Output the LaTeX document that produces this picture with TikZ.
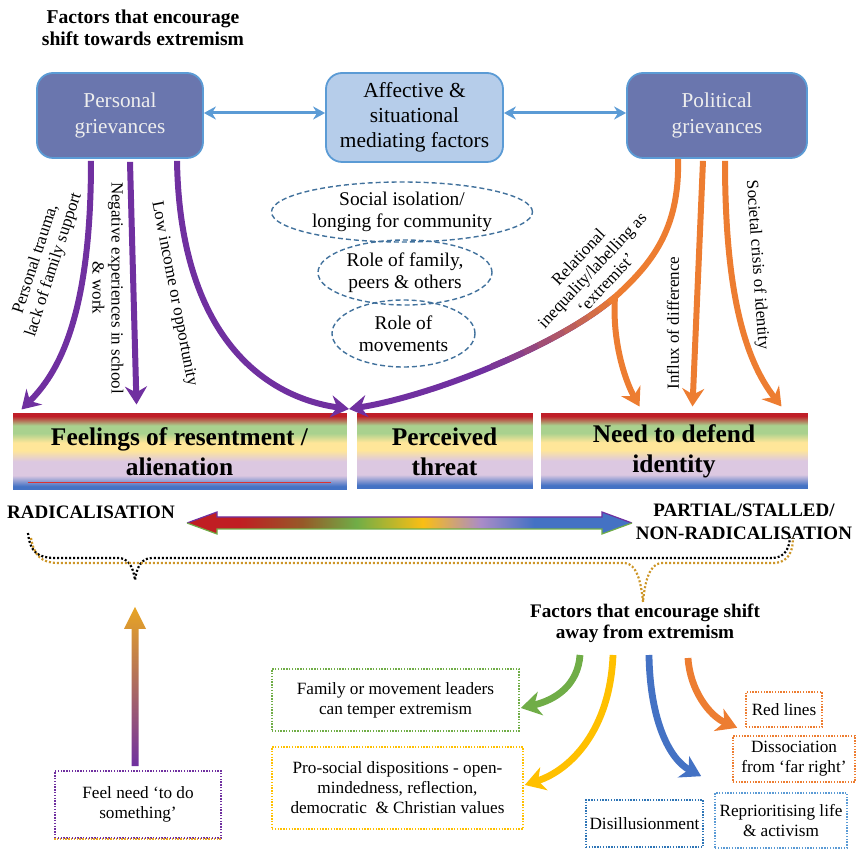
\documentclass[tikz,border=0pt]{standalone}
\usepackage{fontspec}
\setmainfont{Liberation Serif}
\usepackage{tikz}
\usetikzlibrary{arrows.meta, calc, positioning, shapes.geometric}

\definecolor{griefFill}{RGB}{106,118,174}
\definecolor{griefLine}{RGB}{91,155,213}
\definecolor{griefText}{RGB}{238,238,238}
\definecolor{mediateFill}{RGB}{182,205,234}
\definecolor{bubbleLine}{RGB}{65,113,156}
\definecolor{purpleA}{RGB}{112,48,160}
\definecolor{orangeA}{RGB}{237,125,49}
\definecolor{greenA}{RGB}{112,173,71}
\definecolor{goldA}{RGB}{255,192,0}
\definecolor{goldUp}{RGB}{232,165,35}
\definecolor{blueA}{RGB}{68,114,196}
\definecolor{blueDark}{RGB}{46,117,182}
\definecolor{blueLight}{RGB}{91,155,213}
\definecolor{braceGold}{RGB}{205,150,40}
\definecolor{underRed}{RGB}{220,50,50}
\definecolor{rbRed}{RGB}{192,30,40}
\definecolor{rbGreen}{RGB}{169,209,142}
\definecolor{rbYel}{RGB}{255,230,153}
\definecolor{rbLav}{RGB}{220,200,225}
\definecolor{rbBlue}{RGB}{68,114,196}
\definecolor{spRed}{RGB}{192,30,35}
\definecolor{spBrown}{RGB}{150,90,40}
\definecolor{spGreen}{RGB}{112,173,71}
\definecolor{spYel}{RGB}{250,190,20}
\definecolor{spLav}{RGB}{170,140,200}
\definecolor{spBlue}{RGB}{68,114,196}

\pgfdeclareverticalshading{rainbowbox}{100bp}{color(0bp)=(rbBlue); color(25bp)=(rbBlue); color(28bp)=(rbBlue); color(35bp)=(rbLav); color(44bp)=(rbLav); color(51bp)=(rbYel); color(56bp)=(rbYel); color(62bp)=(rbGreen); color(67bp)=(rbGreen); color(73bp)=(rbRed); color(100bp)=(rbRed)}
\pgfdeclarehorizontalshading{spectrum}{100bp}{color(0bp)=(spRed); color(25bp)=(spRed); color(31bp)=(spRed); color(38bp)=(spBrown); color(44bp)=(spGreen); color(51.5bp)=(spYel); color(58bp)=(spLav); color(64bp)=(spBlue); color(100bp)=(spBlue)}

\begin{document}
\begin{tikzpicture}[
  x=0.5pt, y=-0.5pt,
  every node/.style={font=\fontsize{8.6}{10}\selectfont, align=center, inner sep=0pt},
  header/.style={font=\bfseries\fontsize{9.8}{11}\selectfont},
  grief/.style={draw=griefLine, fill=griefFill, line width=0.9pt, rounded corners=8pt, text=griefText, minimum height=42.5pt, font=\fontsize{10.6}{13}\selectfont},
  mediate/.style={draw=griefLine, fill=mediateFill, line width=0.9pt, rounded corners=8pt, font=\fontsize{10.7}{12.5}\selectfont},
  bubble/.style={ellipse, draw=bubbleLine, dash pattern=on 2.5pt off 1.5pt, line width=0.7pt, font=\fontsize{9.7}{10.8}\selectfont},
  rainbow/.style={shade, shading=rainbowbox, draw=white, line width=0.5pt, font=\bfseries\fontsize{12.7}{15}\selectfont},
  dotbox/.style={draw, dash pattern=on 0.7pt off 0.7pt, line width=0.8pt},
  arlabel/.style={font=\fontsize{8.5}{9.5}\selectfont},
  link/.style={griefLine, line width=1.5pt, {Stealth[length=6pt, width=6.5pt]}-{Stealth[length=6pt, width=6.5pt]}},
  pushline/.style={line width=3pt, -{Stealth[length=9pt, width=11pt, inset=3pt]}},
  pullline/.style={line width=3.4pt, -{Stealth[length=10pt, width=12pt, inset=3pt]}},
  bracedots/.style={line width=1.1pt, dash pattern=on 1pt off 1pt}
]
\useasboundingbox (0,0) rectangle (859,850);

% Top boxes
\node[header] (towards) at (143,28) {Factors that encourage\\shift towards extremism};
\node[grief, minimum width=83pt] (personal) at (120,115.5) {Personal\\grievances};
\node[mediate, minimum width=88.5pt, minimum height=44.5pt] (affective) at (414.5,117.5) {Affective \&\\situational\\mediating factors};
\node[grief, minimum width=90pt] (political) at (717,115.5) {Political\\grievances};

% Mediating bubbles
\node[bubble, minimum width=130.5pt, minimum height=30pt] (isolation) at (402,212) {Social isolation/\\longing for community};
\node[bubble, minimum width=87pt, minimum height=32.5pt] (family) at (405,272.5) {Role of family,\\peers \& others};
\node[bubble, minimum width=71.5pt, minimum height=33.5pt] (movements) at (403.5,333.5) {Role of\\movements};

% Outcome boxes
\node[rainbow, minimum width=167.5pt, minimum height=39pt] (resent) at (179.5,452) {Feelings of resentment /\\alienation};
\node[rainbow, minimum width=88.5pt, minimum height=38.5pt] (threat) at (444.5,451.5) {Perceived\\threat};
\node[rainbow, minimum width=134pt, minimum height=38.5pt] (identity) at (674,451.5) {Need to defend\\identity};
\draw[underRed, line width=0.5pt] ($(resent.south west)+(16,-9)$) -- ($(resent.south east)+(-17,-9)$);

% Spectrum
\node[header, font=\bfseries\fontsize{9.5}{11.5}\selectfont] (radical) at (91,512) {RADICALISATION};
\node[header, font=\bfseries\fontsize{9.5}{11.5}\selectfont] (partial) at (744,521.5) {PARTIAL/STALLED/\\NON-RADICALISATION};
\coordinate (specL) at (187,523);
\coordinate (specR) at (632,523);
\shade[shading=spectrum] (specL) -- ++(30,-11) -- ++(0,5) -- ($(specR)+(-30,-6)$) -- ++(0,-5) -- (specR)
  -- ++(-30,11) -- ++(0,-5) -- ($(specL)+(30,6)$) -- ++(0,5) -- cycle;
\draw[purpleA, line width=0.6pt] (specL) -- ++(30,-11) -- ++(0,5) -- ($(specR)+(-30,-6)$) -- ++(0,-5) -- (specR);
\draw[greenA, line width=0.6pt] (specL) -- ++(30,11) -- ++(0,-5) -- ($(specR)+(-30,6)$) -- ++(0,5) -- (specR);

% Brace
\coordinate (tipL) at (135,580);
\coordinate (tipR) at (643,602);
\draw[bracedots, black] (28,533) .. controls (30,552) and (38,558) .. (55,558) -- (118,558)
  .. controls (128,558) and (133,566) .. (tipL) .. controls (137,566) and (142,558) .. (152,558)
  -- (772,558) .. controls (785,558) and (790,548) .. (790,535);
\draw[bracedots, braceGold] (31,538) .. controls (34,556) and (42,563) .. (58,563) -- (625,563)
  .. controls (636,564) and (641,580) .. (tipR) .. controls (645,580) and (650,564) .. (661,563)
  -- (775,563) .. controls (788,562) and (793,552) .. (793,538);

% Away from extremism
\node[header, font=\bfseries\fontsize{9.6}{10.5}\selectfont] (away) at (645,623) {Factors that encourage shift\\away from extremism};
\node[dotbox, draw=greenA, minimum width=123.5pt, minimum height=31pt] (temper) at (395.5,700) {Family or movement leaders\\can temper extremism};
\node[dotbox, draw=goldA, minimum width=125.5pt, minimum height=41pt] (prosocial) at (397.5,788) {Pro-social dispositions - open-\\mindedness, reflection,\\democratic\ \ \& Christian values};
\node[dotbox, draw=orangeA, minimum width=38pt, minimum height=17.5pt] (redlines) at (784,709.5) {Red lines};
\node[dotbox, draw=orangeA, minimum width=61pt, minimum height=23pt] (dissoc) at (794,759) {Dissociation\\from ‘far right’};
\node[dotbox, draw=blueDark, minimum width=58.5pt, minimum height=23.5pt] (disillu) at (644.5,823.5) {Disillusionment};
\node[dotbox, draw=blueLight, minimum width=66pt, minimum height=27.5pt] (repri) at (781,820.5) {Reprioritising life\\\& activism};
\node[dotbox, draw=purpleA, minimum width=83pt, minimum height=33.5pt] (doing) at (138,804.5) {Feel need ‘to do\\something’};
\draw[dotbox, draw=goldUp] (doing.south west) -- (doing.south east);

% Arrow labels
\node[arlabel, rotate=72] (traumaLbl) at (45,262) {Personal trauma,\\lack of family support};
\node[arlabel, rotate=-90] (schoolLbl) at (108,288) {Negative experiences in school\\\& work};
\node[arlabel, rotate=-79] (incomeLbl) at (174,294) {Low income or opportunity};
\node[arlabel, rotate=47] (labelLbl) at (592,270) {Relational\\inequality/labelling as\\‘extremist’};
\node[arlabel, rotate=90] (influxLbl) at (673,323) {Influx of difference};
\node[arlabel, rotate=-86] (crisisLbl) at (757,265) {Societal crisis of identity};

% Links between top boxes
\draw[link] ($(personal.east)+(0,-2.5)$) -- ($(affective.west)+(0,-4.5)$);
\draw[link] ($(affective.east)+(0,-4.5)$) -- ($(political.west)+(0,-2.5)$);

% Personal grievance arrows
\coordinate (meet) at (349,409);
\draw[pushline, purpleA] ($(personal.south)+(-29,2)$) .. controls +(0,160) and +(35,-35) .. ($(resent.north west)+(10,-3)$);
\draw[pushline, purpleA] ($(personal.south)+(10,3)$) -- ($(resent.north west)+(125,-8)$);
\draw[pushline, purpleA] ($(personal.south)+(57,2)$) .. controls +(3,175) and +(-85,-12) .. (meet);

% Political grievance arrows
\coordinate (fork) at (615,297);
\draw[line width=3pt, orangeA] ($(political.south)+(-39,0)$) .. controls +(2,72) and +(35,-32) .. (fork);
\draw[pushline, purpleA] (fork) .. controls +(-55,48) and +(83,-13) .. (meet);
\path (fork) .. controls +(-55,48) and +(83,-13) .. (meet)
  \foreach \k [evaluate=\k as \t using \k/20] in {0,...,10} {coordinate[pos=\t] (g\k)};
\foreach \k [count=\n from 1, evaluate=\k as \mixp using int(100-\k*10)] in {0,...,9}
  \draw[line width=3pt, line cap=round, orangeA!\mixp!purpleA] (g\k) -- (g\n);
\draw[pushline, orangeA] (fork) .. controls +(-3,43) and +(-15,-27) .. ($(identity.north west)+(100,-6)$);
\draw[pushline, orangeA] ($(political.south)+(-14,2)$) -- ($(identity.north west)+(153,-6)$);
\draw[pushline, orangeA] ($(political.south)+(8,2)$) .. controls +(0,130) and +(-37,-47) .. ($(identity.north west)+(242,-6)$);

% Need to do something
\coordinate (upfoot) at ($(doing.north)+(-3,-4)$);
\coordinate (uptip) at (135,607);
\shade[bottom color=purpleA, top color=goldUp] ($(upfoot)+(-3.5,0)$) -- ($(uptip)+(-3.5,22)$) -- ($(uptip)+(-11,22)$)
  -- (uptip) -- ($(uptip)+(11,22)$) -- ($(uptip)+(3.5,22)$) -- ($(upfoot)+(3.5,0)$) -- cycle;

% Shift away arrows
\coordinate (fan) at (645,655);
\draw[pullline, greenA] ($(fan)+(-65,0)$) .. controls +(-2,30) and +(35,-8) .. ($(temper.east)+(1,8)$);
\draw[pullline, goldA] ($(fan)+(-32,0)$) .. controls +(-3,75) and +(46,-15) .. ($(prosocial.east)+(1,-3)$);
\draw[pullline, blueA] ($(fan)+(4,0)$) .. controls +(1,65) and +(-32,-17) .. ($(repri.north west)+(-13,-16)$);
\draw[pullline, orangeA] ($(fan)+(43,3)$) .. controls +(2,32) and +(-28,-12) .. ($(redlines.south west)+(-8,0)$);
\end{tikzpicture}
\end{document}
